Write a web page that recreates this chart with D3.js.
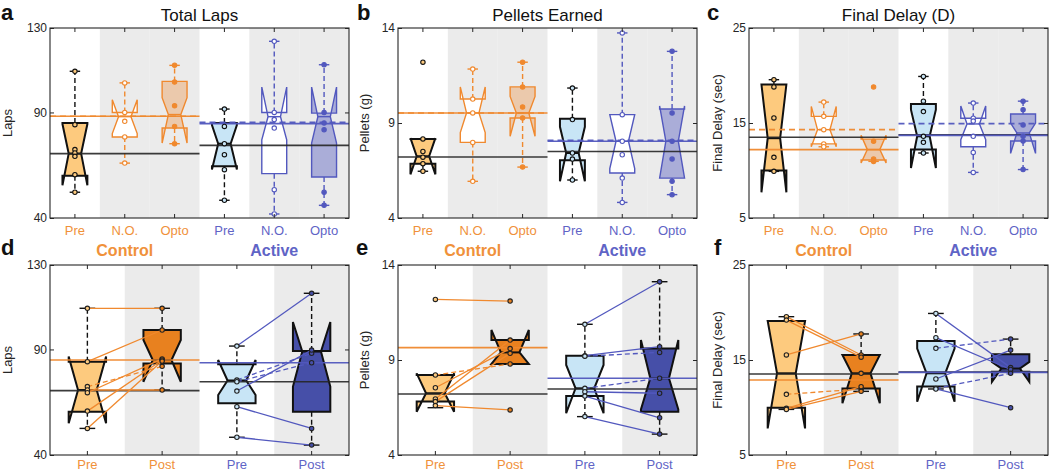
<!DOCTYPE html>
<html>
<head>
<meta charset="utf-8">
<script src="https://cdn.jsdelivr.net/npm/d3@7"></script>
<style>
  body { margin: 0; background: #fff; }
  svg { display: block; font-family: "Liberation Sans", Arial, sans-serif; }
</style>
</head>
<body>
<div id="chart"></div>
<script>
var topGroups = ["Pre", "N.O.", "Opto", "Pre", "N.O.", "Opto"];
var bottomGroups = ["Pre", "Post", "Pre", "Post"];

// box stats per group: [q1, median, q3, whiskerLo, whiskerHi, notchLo, notchHi]
var lapsBoxes = [
  [60, 70.5, 85, 52.2, 109.5, 55.5, 84.5],
  [78.4, 88, 90, 66, 104, 80, 96],
  [82.6, 89, 104.7, 75.2, 112.3, 75.5, 97],
  [64.5, 75.2, 85, 48.4, 91.6, 63, 84],
  [61, 88, 90, 41.9, 123.7, 77, 102],
  [59.4, 88, 89.7, 46, 112.6, 75.5, 102]
];
var lapsPoints = [
  [109.5, 84.2, 72.4, 70.8, 69.2, 60.5, 52.2],
  [104, 90, 85.8, 78.4, 66],
  [112.3, 104.4, 93.2, 83.4, 75.2],
  [91.6, 83.4, 75.2, 70, 62.9, 48.4],
  [123.7, 90, 86.6, 82.6, 53.4, 41.9],
  [112.6, 90, 85, 81.8, 52.2, 46]
];
// reference lines per half: [pre, n.o., opto]
var lapsLines = [[70.5, 88.2, 88.2], [74.4, 85.3, 84.7]];

var pelletBoxes = [
  [6.86, 7.25, 8.16, 6.46, 8.16, 6.3, 8.2],
  [7.98, 9.53, 10.26, 5.93, 11.84, 8.5, 10.9],
  [9.26, 9.53, 10.9, 6.68, 12.2, 8.3, 10.4],
  [7.04, 7.42, 9.23, 6.0, 10.84, 5.93, 8.8],
  [6.37, 8.04, 9.44, 4.82, 13.74, 6.6, 9.44],
  [6.1, 8.04, 9.74, 5.23, 12.77, 6.1, 9.9]
];
var pelletPoints = [
  [12.2, 8.16, 7.5, 7.2, 6.86, 6.46],
  [11.84, 10.26, 9.53, 7.98, 5.93],
  [12.2, 10.9, 9.84, 9.26, 6.68],
  [10.84, 9.18, 7.42, 7.1, 6.0],
  [13.74, 9.44, 8.04, 7.33, 6.1, 4.82],
  [12.77, 9.53, 8.04, 7.1, 5.93, 5.23]
];
var pelletLines = [[7.21, 9.53, 9.53], [7.5, 8.09, 8.04]];

var delayBoxes = [
  [10.0, 13.4, 19.04, 9.91, 19.56, 7.7, 19.04],
  [12.8, 14.3, 15.7, 12.5, 17.2, 12.5, 16.75],
  [11.1, 12.2, 13.3, 10.96, 13.3, 10.8, 13.7],
  [12.2, 13.6, 17.0, 11.84, 19.9, 10.26, 16.4],
  [12.5, 14.9, 15.5, 9.8, 17.1, 13.25, 16.8],
  [13.1, 13.95, 15.95, 10.1, 17.3, 11.8, 15.0]
];
var delayPoints = [
  [19.56, 18.8, 15.53, 11.39, 9.91],
  [17.2, 15.7, 14.3, 12.8, 12.5],
  [18.8, 13.07, 11.2, 10.96],
  [19.9, 17.3, 16.2, 13.6, 12.97, 11.84],
  [17.1, 15.5, 15.2, 13.6, 11.9, 9.8],
  [17.3, 16.4, 14.8, 13.6, 13.1, 10.1]
];
var delayLines = [[13.5, 14.3, 12.2], [13.77, 14.93, 13.7]];

// pre / post panels
var lapsPPBoxes = [
  [60.5, 70.8, 84.2, 52.6, 109.5, 55, 86.6],
  [83.4, 85, 99.2, 70.8, 109.5, 74.7, 94.5],
  [64.5, 75.3, 83, 48.4, 91.6, 68.4, 85],
  [60.5, 89, 89.3, 44.7, 116.6, 72.4, 103]
];
var lapsCtrlPre = [109.5, 84.2, 72.4, 70.8, 69.5, 60.8, 52.6];
var lapsCtrlPost = [109.5, 99.2, 82, 70.8, 85.5, 85, 84.5];
var lapsCtrlDash = [0, 0, 1, 0, 0, 0, 0];
var lapsActPre = [91.6, 75.5, 74.7, 70.3, 62.9, 48.4];
var lapsActPost = [116.6, 88.2, 83.7, 89.7, 52.6, 44.7];
var lapsActDash = [0, 1, 1, 0, 0, 0];
var lapsPPLines = [[70.5, 85], [74.7, 83.7]];

var pelletPPBoxes = [
  [6.81, 7.25, 8.21, 6.49, 8.21, 6.28, 8.3],
  [8.79, 9.4, 10.05, 8.79, 10.05, 8.79, 10.58],
  [7.1, 7.51, 9.23, 6.02, 10.88, 6.2, 8.74],
  [6.28, 8.04, 9.61, 5.1, 13.12, 6.4, 10.05]
];
var pelletCtrlPre = [12.19, 8.21, 7.54, 6.95, 6.81, 6.6];
var pelletCtrlPost = [12.1, 8.79, 9.6, 10.05, 9.35, 6.37];
var pelletCtrlDash = [0, 1, 0, 0, 0, 0];
var pelletActPre = [10.88, 9.23, 9.2, 7.51, 7.33, 7.1, 6.02];
var pelletActPost = [13.12, 9.7, 9.4, 8.04, 7.25, 5.96, 5.1];
var pelletActDash = [0, 0, 1, 1, 0, 0, 0];
var pelletPPLines = [[7.21, 9.65], [7.47, 8.04]];

var delayPPBoxes = [
  [9.98, 13.6, 19.1, 9.8, 19.56, 7.8, 19.1],
  [12.0, 13.6, 15.53, 11.7, 17.74, 10.44, 15.53],
  [12.2, 13.6, 17.0, 11.95, 19.9, 10.6, 16.2],
  [13.77, 14.1, 15.6, 13.77, 17.2, 12.7, 14.8]
];
var delayCtrlPre = [19.56, 19.2, 15.53, 11.39, 9.91, 9.8, null];
var delayCtrlPost = [15.53, 15.3, 17.74, 11.95, 12.19, 11.7, 13.6];
var delayCtrlDash = [0, 0, 0, 1, 0, 0, 0];
var delayActPre = [19.9, 17.35, 16.23, 13.0, 12.0, 11.95];
var delayActPost = [14.2, 14.0, 17.2, 16.05, 13.6, 9.98];
var delayActDash = [0, 0, 1, 0, 1, 0];
var delayPPLines = [[13.53, 12.9], [13.72, 13.7]];

var W = 299, H = 190;
var orange = "#f0892e", blue = "#5258be", ink = "#262626";
var lightOrange = "#fdca7e", darkOrange = "#e8811f";
var lightBlue = "#c8e5f6", darkBlue = "#464fa8";
var txtOrange = "#f0913a", txtBlue = "#5f64c6";

var topStyles = [
  { fill: lightOrange, stroke: "#111", whisk: "#111", ptFill: lightOrange, ptStroke: "#111", sw: 2 },
  { fill: "#fff", stroke: orange, whisk: orange, ptFill: "#fff", ptStroke: orange, sw: 1.4 },
  { fill: "rgba(235,130,40,0.32)", stroke: orange, whisk: orange, ptFill: orange, ptStroke: orange, sw: 1.4 },
  { fill: lightBlue, stroke: "#111", whisk: "#111", ptFill: lightBlue, ptStroke: "#111", sw: 2 },
  { fill: "#fff", stroke: blue, whisk: blue, ptFill: "#fff", ptStroke: blue, sw: 1.4 },
  { fill: "rgba(80,88,190,0.42)", stroke: blue, whisk: blue, ptFill: blue, ptStroke: blue, sw: 1.4 }
];
var bottomStyles = [lightOrange, darkOrange, lightBlue, darkBlue].map(function (f) {
  return { fill: f, stroke: "#111", whisk: "#111", ptFill: f, ptStroke: "#222", sw: 2 };
});

var svg = d3.select("#chart").append("svg").attr("width", 1050).attr("height", 473);

function panel(p) {
  var g = svg.append("g").attr("transform", "translate(" + p.x + "," + p.y + ")");
  var n = p.groups.length;
  var x = d3.scaleBand().domain(d3.range(n)).range([0, W]);
  var y = d3.scaleLinear().domain(p.domain).range([H, 0]);
  var bw = x.bandwidth(), boxW = bw * 0.5, nd = boxW / 4, capW = boxW * 0.42;
  var cx = function (i) { return x(i) + bw / 2 };

  g.selectAll(".band").data(p.shaded).enter().append("rect")
    .attr("x", function (i) { return x(i) }).attr("y", 0)
    .attr("width", bw).attr("height", H).attr("fill", "#ebebeb");

  // whiskers
  p.boxes.forEach(function (b, i) {
    var s = p.styles[i], c = cx(i);
    [[b[2], b[4]], [b[0], b[3]]].forEach(function (w) {
      if (Math.abs(w[1] - w[0]) < 1e-9) { return }
      g.append("line").attr("x1", c).attr("x2", c).attr("y1", y(w[0])).attr("y2", y(w[1]))
        .attr("stroke", s.whisk).attr("stroke-width", 1.4).attr("stroke-dasharray", "5,3");
      g.append("line").attr("x1", c - capW / 2).attr("x2", c + capW / 2)
        .attr("y1", y(w[1])).attr("y2", y(w[1]))
        .attr("stroke", s.whisk).attr("stroke-width", 1.4);
    });
  });

  // notched boxes
  var line = d3.line();
  p.boxes.forEach(function (b, i) {
    var s = p.styles[i], L = cx(i) - boxW / 2, R = cx(i) + boxW / 2;
    var pts = [[L, b[0]], [L, b[5]], [L + nd, b[1]], [L, b[6]], [L, b[2]],
               [R, b[2]], [R, b[6]], [R - nd, b[1]], [R, b[5]], [R, b[0]]]
      .map(function (q) { return [q[0], y(q[1])] });
    g.append("path").attr("d", line(pts) + "Z")
      .attr("fill", s.fill).attr("stroke", s.stroke).attr("stroke-width", s.sw)
      .attr("stroke-linejoin", "miter");
    g.append("line").attr("x1", L + nd).attr("x2", R - nd).attr("y1", y(b[1])).attr("y2", y(b[1]))
      .attr("stroke", s.stroke).attr("stroke-width", s.sw);
  });

  // reference lines per half
  p.lines.forEach(function (vals, h) {
    var x1 = h * W / 2, x2 = (h + 1) * W / 2, col = h === 0 ? orange : blue;
    vals.forEach(function (v, k) {
      var isPre = k === 0, dashed = p.groups.length === 6 && k === 1;
      g.append("line").attr("x1", x1).attr("x2", x2).attr("y1", y(v)).attr("y2", y(v))
        .attr("stroke", isPre ? ink : col).attr("stroke-width", 1.6)
        .attr("stroke-dasharray", dashed ? "6,4" : null)
        .attr("opacity", isPre ? 0.9 : 0.95);
    });
  });

  // pre/post connections and points
  if (p.pairs) {
    p.pairs.forEach(function (pr, h) {
      var col = h === 0 ? orange : blue, a = cx(2 * h), c = cx(2 * h + 1);
      pr.pre.forEach(function (v, k) {
        if (v == null || pr.post[k] == null) { return }
        g.append("line").attr("x1", a).attr("x2", c).attr("y1", y(v)).attr("y2", y(pr.post[k]))
          .attr("stroke", col).attr("stroke-width", 1.3)
          .attr("stroke-dasharray", pr.dash[k] ? "5,3" : null);
      });
      [[pr.pre, 2 * h], [pr.post, 2 * h + 1]].forEach(function (set) {
        var s = p.styles[set[1]];
        g.selectAll(null).data(set[0].filter(function (v) { return v != null })).enter().append("circle")
          .attr("cx", cx(set[1])).attr("cy", function (d) { return y(d) }).attr("r", 2.2)
          .attr("fill", s.ptFill).attr("stroke", s.ptStroke).attr("stroke-width", 1.1);
      });
    });
  } else {
    p.points.forEach(function (vals, i) {
      var s = p.styles[i];
      g.selectAll(null).data(vals).enter().append("circle")
        .attr("cx", cx(i)).attr("cy", function (d) { return y(d) }).attr("r", 2.2)
        .attr("fill", s.ptFill).attr("stroke", s.ptStroke).attr("stroke-width", 1.1);
    });
  }

  // axes and frame
  var axes = [
    [d3.axisBottom(x).tickFormat(""), "translate(0," + H + ")"],
    [d3.axisTop(x).tickFormat(""), null],
    [d3.axisLeft(y).tickValues(p.ticks), null],
    [d3.axisRight(y).tickValues(p.ticks).tickFormat(""), "translate(" + W + ",0)"]
  ];
  axes.forEach(function (a) {
    var ag = g.append("g").attr("transform", a[1]).call(a[0].tickSize(-4).tickSizeOuter(0));
    ag.select(".domain").remove();
    ag.selectAll("line").attr("stroke", ink);
    ag.selectAll("text").attr("fill", ink).style("font-size", "12px")
      .style("font-family", "'Liberation Sans', Arial, sans-serif");
  });
  g.append("rect").attr("width", W).attr("height", H).attr("fill", "none")
    .attr("stroke", ink).attr("stroke-width", 1.1);

  // category labels
  g.selectAll(".cat").data(p.groups).enter().append("text")
    .attr("x", function (d, i) { return cx(i) }).attr("y", H + (p.title ? 17 : 14))
    .attr("text-anchor", "middle").style("font-size", "13px")
    .attr("fill", function (d, i) { return i < n / 2 ? txtOrange : txtBlue })
    .text(function (d) { return d });

  // y label
  g.append("text").attr("transform", "translate(" + p.ylabX + "," + (H / 2) + ") rotate(-90)")
    .attr("text-anchor", "middle").style("font-size", "13px").attr("fill", ink).text(p.ylabel);

  // panel letter
  svg.append("text").attr("x", p.letterX).attr("y", p.y - (p.title ? 8 : 10))
    .style("font-size", "22px").style("font-weight", "bold").attr("fill", "#111").text(p.letter);

  if (p.title) {
    g.append("text").attr("x", W / 2).attr("y", -7).attr("text-anchor", "middle")
      .style("font-size", "17px").attr("fill", "#111").text(p.title);
  } else {
    g.append("text").attr("x", W / 4).attr("y", -9).attr("text-anchor", "middle")
      .style("font-size", "16px").style("font-weight", "bold").attr("fill", txtOrange).text("Control");
    g.append("text").attr("x", 3 * W / 4).attr("y", -9).attr("text-anchor", "middle")
      .style("font-size", "16px").style("font-weight", "bold").attr("fill", txtBlue).text("Active");
  }
}

var topShaded = [1, 2, 4, 5], bottomShaded = [1, 3];

panel({ x: 50, y: 28, letter: "a", letterX: 1, title: "Total Laps", ylabel: "Laps", ylabX: -38,
  groups: topGroups, shaded: topShaded, domain: [40, 130], ticks: [40, 90, 130],
  boxes: lapsBoxes, points: lapsPoints, lines: lapsLines, styles: topStyles });
panel({ x: 398, y: 28, letter: "b", letterX: 357, title: "Pellets Earned", ylabel: "Pellets (g)", ylabX: -29,
  groups: topGroups, shaded: topShaded, domain: [4, 14], ticks: [4, 9, 14],
  boxes: pelletBoxes, points: pelletPoints, lines: pelletLines, styles: topStyles });
panel({ x: 749, y: 28, letter: "c", letterX: 707, title: "Final Delay (D)", ylabel: "Final Delay (sec)", ylabX: -27,
  groups: topGroups, shaded: topShaded, domain: [5, 25], ticks: [5, 15, 25],
  boxes: delayBoxes, points: delayPoints, lines: delayLines, styles: topStyles });

panel({ x: 50, y: 265, letter: "d", letterX: 1, ylabel: "Laps", ylabX: -38,
  groups: bottomGroups, shaded: bottomShaded, domain: [40, 130], ticks: [40, 90, 130],
  boxes: lapsPPBoxes, lines: lapsPPLines, styles: bottomStyles,
  pairs: [{ pre: lapsCtrlPre, post: lapsCtrlPost, dash: lapsCtrlDash },
          { pre: lapsActPre, post: lapsActPost, dash: lapsActDash }] });
panel({ x: 398, y: 265, letter: "e", letterX: 356, ylabel: "Pellets (g)", ylabX: -29,
  groups: bottomGroups, shaded: bottomShaded, domain: [4, 14], ticks: [4, 9, 14],
  boxes: pelletPPBoxes, lines: pelletPPLines, styles: bottomStyles,
  pairs: [{ pre: pelletCtrlPre, post: pelletCtrlPost, dash: pelletCtrlDash },
          { pre: pelletActPre, post: pelletActPost, dash: pelletActDash }] });
panel({ x: 749, y: 265, letter: "f", letterX: 714, ylabel: "Final Delay (sec)", ylabX: -27,
  groups: bottomGroups, shaded: bottomShaded, domain: [5, 25], ticks: [5, 15, 25],
  boxes: delayPPBoxes, lines: delayPPLines, styles: bottomStyles,
  pairs: [{ pre: delayCtrlPre, post: delayCtrlPost, dash: delayCtrlDash },
          { pre: delayActPre, post: delayActPost, dash: delayActDash }] });
</script>
</body>
</html>
